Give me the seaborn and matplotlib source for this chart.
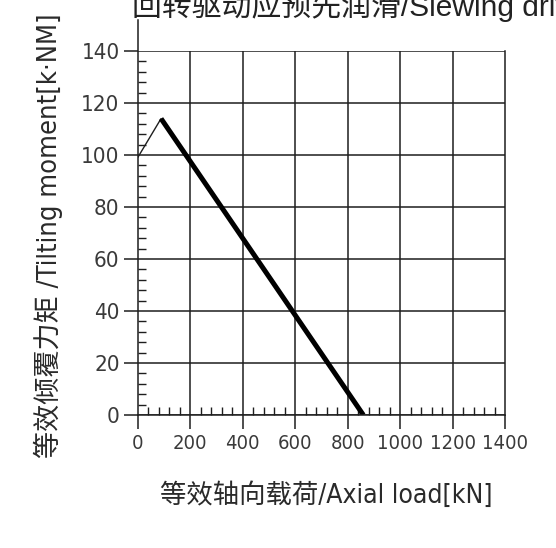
import numpy as np
import pandas as pd
import matplotlib
matplotlib.use('Agg')
import matplotlib.pyplot as plt
import seaborn as sns
from matplotlib.ticker import FixedLocator

# values
axial_load = [0, 89, 860]          # kN
tilting_moment = [99, 114, 0]      # kN*m
x_ticks = [0, 200, 400, 600, 800, 1000, 1200, 1400]
y_ticks = [0, 20, 40, 60, 80, 100, 120, 140]

title_txt = '回转驱动应预先润滑/Slewing drive should be pre-lubricated'
xlabel_txt = '等效轴向载荷/Axial load[kN]'
ylabel_txt = '等效倾覆力矩 /Tilting moment[k·NM]'

sns.set_style('white')
plt.rcParams['font.family'] = ['DejaVu Sans', 'Noto Sans CJK SC']

ink = '#1e1e1e'

fig = plt.figure(figsize=(5.56, 5.48), dpi=100)
ax = fig.add_axes([137.7 / 556, 1 - 415 / 548, 367.3 / 556, 364 / 548])

thin = pd.DataFrame({'x': axial_load[:2], 'y': tilting_moment[:2]})
thick = pd.DataFrame({'x': axial_load[1:], 'y': tilting_moment[1:]})
sns.lineplot(data=thin, x='x', y='y', color=ink, lw=1.0, ax=ax)
sns.lineplot(data=thick, x='x', y='y', color='black', lw=3.6, ax=ax, solid_capstyle='butt')

ax.set_xlim(0, 1400)
ax.set_ylim(0, 140)
ax.set_xticks(x_ticks)
ax.set_yticks(y_ticks)
ax.xaxis.set_minor_locator(FixedLocator([v for v in range(0, 1401, 40) if v % 200]))
ax.yaxis.set_minor_locator(FixedLocator([v for v in range(0, 141, 4) if v % 20]))

ax.grid(axis='y', which='major', color=ink, lw=1.1)
ax.vlines(x_ticks[1:-1], 0, 140, color=ink, lw=1.1, zorder=0.5)

for s in ['left', 'bottom', 'right']:
    ax.spines[s].set_color(ink)
    ax.spines[s].set_linewidth(1.1)
ax.spines['top'].set_visible(False)
ax.spines['left'].set_bounds(0, 152)

ax.tick_params(axis='both', which='both', bottom=True, left=True, top=False, right=False)
ax.tick_params(axis='both', which='major', direction='out', length=10, width=1.1,
               color=ink, labelcolor='#3a3a3a', pad=3)
ax.tick_params(axis='y', which='major', labelsize=16)
ax.tick_params(axis='x', which='major', labelsize=14.5, pad=4)
ax.tick_params(axis='both', which='minor', direction='in', length=5.5, width=1.0, color=ink)
for lab in ax.get_xticklabels() + ax.get_yticklabels():
    lab.set_fontstretch('condensed')
ax.set_xlabel('')
ax.set_ylabel('')

fig.text(326 / 556, 1 - 503 / 548, xlabel_txt, ha='center', va='baseline',
         fontsize=19, color='#2a2a2a', fontstretch='condensed')
fig.text(48 / 556, 1 - 236 / 548, ylabel_txt, ha='center', va='center', rotation=90,
         fontsize=19.5, color='#2a2a2a', fontstretch='condensed')
fig.text(132 / 556, 1 - 16 / 548, title_txt, ha='left', va='baseline', fontsize=21.5,
         color='#222222', family=['Liberation Sans', 'Noto Sans CJK SC'])

fig.savefig('out.png', dpi=100, facecolor='white')
